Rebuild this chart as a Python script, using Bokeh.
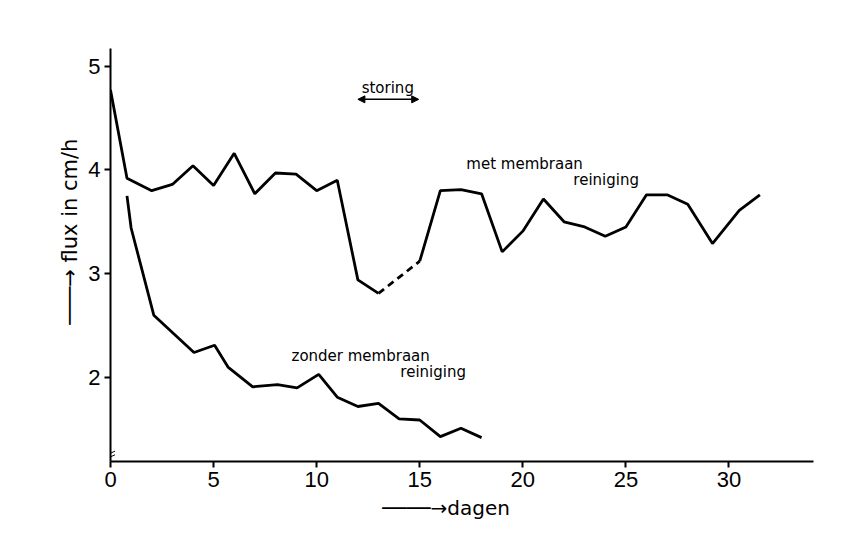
from bokeh.plotting import figure
from bokeh.models import Range1d, FixedTicker, Label, Arrow, NormalHead
from bokeh.embed import file_html
from bokeh.resources import INLINE

# ---- data ----
met_days = [0, 0.8, 2, 3, 4, 5, 6, 7, 8, 9, 10, 11, 12, 13, 15, 16, 17, 18, 19, 20,
            21, 22, 23, 24, 25, 26, 27, 28, 29.2, 30.5, 31.5]
met_flux = [4.77, 3.92, 3.80, 3.86, 4.04, 3.85, 4.16, 3.77, 3.97, 3.96, 3.80, 3.90,
            2.94, 2.81, 3.12, 3.80, 3.81, 3.77, 3.21, 3.41, 3.72, 3.50, 3.45, 3.36,
            3.45, 3.76, 3.76, 3.67, 3.29, 3.61, 3.76]
storing_start_idx = 13   # dashed part (storing) between day 13 and day 15
storing_end_idx = 14

zonder_days = [0.8, 1.0, 2.1, 4.05, 5.05, 5.7, 6.9, 8.1, 9.05, 10.1, 11, 12, 13, 14,
               15, 16, 17, 18]
zonder_flux = [3.75, 3.44, 2.60, 2.24, 2.31, 2.10, 1.91, 1.93, 1.90, 2.03, 1.81, 1.72,
               1.75, 1.60, 1.59, 1.43, 1.51, 1.42]

x_ticks = [0, 5, 10, 15, 20, 25, 30]
y_ticks = [2, 3, 4, 5]

X0, X1 = 0, 34.1
Y0, Y1 = 1.19, 5.17

NB = "\u00a0"
BAR = "\u2500"
ARROW = "\u2192"

p = figure(width=850, height=536, x_range=Range1d(X0, X1), y_range=Range1d(Y0, Y1),
           output_backend="svg", toolbar_location=None,
           min_border_left=110, min_border_right=37, min_border_top=48,
           min_border_bottom=75)
p.outline_line_color = None
p.grid.visible = False
p.background_fill_color = "white"

for ax in (p.xaxis[0], p.yaxis[0]):
    ax.axis_line_width = 2
    ax.axis_line_color = "black"
    ax.major_tick_line_width = 2
    ax.major_tick_line_color = "black"
    ax.major_tick_in = 0
    ax.major_tick_out = 6
    ax.minor_tick_out = 0
    ax.minor_tick_in = 0
    ax.major_label_text_font = "Liberation Sans"
    ax.major_label_text_font_size = "22px"
    ax.major_label_text_color = "black"
    ax.axis_label_text_font = "DejaVu Sans"
    ax.axis_label_text_font_size = "20px"
    ax.axis_label_text_font_style = "normal"
    ax.axis_label_text_color = "black"

p.xaxis[0].ticker = FixedTicker(ticks=x_ticks)
p.yaxis[0].ticker = FixedTicker(ticks=y_ticks)
p.xaxis[0].major_label_standoff = 4
p.yaxis[0].major_label_standoff = 4

p.yaxis[0].axis_label = NB * 7 + BAR * 3 + ARROW + NB + "flux in cm/h"
p.yaxis[0].axis_label_text_font_size = "21px"
p.yaxis[0].axis_label_standoff = 3
p.xaxis[0].axis_label = BAR * 4 + ARROW + "dagen" + NB * 5
p.xaxis[0].axis_label_standoff = 6

# ---- lines ----
a, b = storing_start_idx, storing_end_idx
p.line(met_days[:a + 1], met_flux[:a + 1], line_color="black", line_width=2.8)
p.line(met_days[a:b + 1], met_flux[a:b + 1], line_color="black", line_width=2.8,
       line_dash="7 5")
p.line(met_days[b:], met_flux[b:], line_color="black", line_width=2.8)
p.line(zonder_days, zonder_flux, line_color="black", line_width=2.8)

# ---- annotations ----
def lab(x, y, t, size="15px", align="left"):
    p.add_layout(Label(x=x, y=y, text=t, text_font="DejaVu Sans", text_font_size=size,
                       text_align=align, text_baseline="middle", text_color="black"))

lab(13.45, 4.79, "storing", size="15px", align="center")
p.add_layout(Arrow(x_start=12.0, y_start=4.68, x_end=14.95, y_end=4.68, line_width=1.5,
                   start=NormalHead(size=7, fill_color="black", line_color="black"),
                   end=NormalHead(size=7, fill_color="black", line_color="black")))

lab(17.26, 4.06, "met  membraan")
lab(22.45, 3.90, "reiniging")
lab(8.78, 2.21, "zonder membraan")
lab(14.06, 2.05, "reiniging")

# axis break mark
for dy in (0.0, 0.035):
    p.add_layout(Arrow(x_start=-0.22, y_start=1.215 + dy, x_end=0.22, y_end=1.255 + dy,
                       line_width=1, end=None))

open("out.html", "w").write(file_html(p, INLINE))
